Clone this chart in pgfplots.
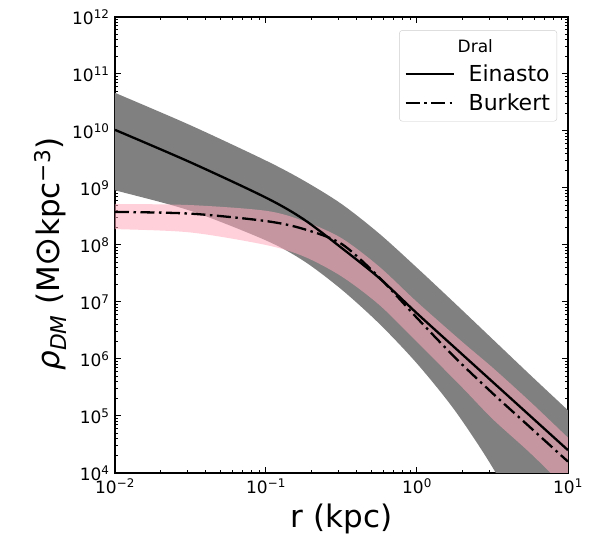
\documentclass[border=0pt]{standalone}
\usepackage{fontspec}
\setmainfont{DejaVu Sans}
\usepackage{pgfplots}
\pgfplotsset{compat=1.18}
\definecolor{bandgrey}{RGB}{128,128,128}
\definecolor{bandpink}{RGB}{255,168,188}
\begin{document}
\begin{tikzpicture}
\path[use as bounding box] (-115pt,-64pt) rectangle (479pt,473pt);
\begin{axis}[
  scale only axis,
  width=453pt, height=456pt,
  at={(0pt,0pt)}, anchor=south west,
  xmode=log, ymode=log,
  xmin=1e-2, xmax=10, ymin=1e4, ymax=1e12,
  axis line style={line width=1.4pt},
  tick align=inside,
  xtick pos=both, ytick pos=both,
  major tick length=6pt, minor tick length=3pt,
  every tick/.style={black, line width=1pt},
  xtick={1e-2,1e-1,1,10},
  xticklabels={10\textsuperscript{−2},10\textsuperscript{−1},10\textsuperscript{0},10\textsuperscript{1}},
  ytick={1e4,1e5,1e6,1e7,1e8,1e9,1e10,1e11,1e12},
  yticklabels={10\textsuperscript{4},10\textsuperscript{5},10\textsuperscript{6},10\textsuperscript{7},10\textsuperscript{8},10\textsuperscript{9},10\textsuperscript{10},10\textsuperscript{11},10\textsuperscript{12}},
  minor xtick={2e-2,3e-2,4e-2,5e-2,6e-2,7e-2,8e-2,9e-2,0.2,0.3,0.4,0.5,0.6,0.7,0.8,0.9,2,3,4,5,6,7,8,9},
  minor ytick={2e4,3e4,4e4,5e4,6e4,7e4,8e4,9e4,2e5,3e5,4e5,5e5,6e5,7e5,8e5,9e5,2e6,3e6,4e6,5e6,6e6,7e6,8e6,9e6,2e7,3e7,4e7,5e7,6e7,7e7,8e7,9e7,2e8,3e8,4e8,5e8,6e8,7e8,8e8,9e8,2e9,3e9,4e9,5e9,6e9,7e9,8e9,9e9,2e10,3e10,4e10,5e10,6e10,7e10,8e10,9e10,2e11,3e11,4e11,5e11,6e11,7e11,8e11,9e11},
  tick label style={font=\fontsize{17}{17}\selectfont},
  xticklabel style={yshift=-2pt},
  yticklabel style={xshift=-2pt},
  xlabel={r (kpc)},
  ylabel={{\itshape ρ}\textsubscript{\itshape DM} (M{\fontsize{35}{35}\selectfont ⊙}kpc\textsuperscript{−3})},
  label style={font=\fontsize{31}{31}\selectfont},
  xlabel style={yshift=-3pt},
  ylabel style={yshift=-1pt, xshift=-9pt},
  legend style={at={(rel axis cs:0.976,0.971)}, anchor=north east,
    draw={rgb,255:red,204;green,204;blue,204}, rounded corners=3pt,
    font=\fontsize{22}{22}\selectfont, inner xsep=5pt, inner ysep=7pt,
    row sep=7pt},
  legend cell align=left,
  legend image code/.code={\draw[#1] (0pt,0pt) -- (48pt,0pt); \path (60pt,0pt);},
]
% Einasto band (upper edge, then lower edge back)
\addplot[fill=bandgrey, draw=none, smooth, forget plot] coordinates {
 (0.007,7.08e10) (0.01,4.677e10) (0.03162,1.259e10) (0.1,3.020e9) (0.1778,1.349e9) (0.3162,5.248e8)
 (0.5623,1.585e8) (1,3.981e7) (1.778,9.550e6) (3.162,2.239e6) (5.623,5.248e5) (10,1.259e5) (14,5.5e4)
 (14,7) (10,40) (5.623,794) (3.162,1.259e4) (1.778,1.259e5) (1,8.318e5) (0.5623,4.169e6)
 (0.3162,1.660e7) (0.1778,5.248e7) (0.1,1.202e8) (0.03162,3.981e8) (0.01,9.12e8) (0.007,1.175e9)
} -- cycle;
% Burkert band
\addplot[fill=bandpink, fill opacity=0.55, draw=none, smooth, forget plot] coordinates {
 (0.007,5.25e8) (0.01,5.248e8) (0.03162,5.012e8) (0.1,3.981e8) (0.1778,2.630e8) (0.3162,1.318e8)
 (0.5623,4.169e7) (1,1e7) (1.995,1.995e6) (3.162,7.079e5) (5.623,1.778e5) (10,4.169e4) (14,1.82e4)
 (14,2089) (10,5012) (5.623,2.239e4) (3.162,8.913e4) (1.995,3.162e5) (1,1.995e6) (0.5623,8.913e6)
 (0.3162,2.818e7) (0.1778,6.310e7) (0.1,1e8) (0.03162,1.660e8) (0.01,1.905e8) (0.007,1.95e8)
} -- cycle;
\addlegendimage{empty legend}
\addlegendentry{\makebox[0pt][l]{\hspace{-11pt}\fontsize{17}{17}\selectfont Dral}}
% Einasto
\addplot[black, line width=2.3pt, smooth] coordinates {
 (0.01,1.047e10) (0.03162,2.818e9) (0.1,6.761e8) (0.1778,2.818e8) (0.3162,8.913e7)
 (0.5623,2.630e7) (1,6.310e6) (1.778,1.585e6) (3.162,3.981e5) (5.623,1e5) (10,2.512e4)
};
\addlegendentry{Einasto}
% Burkert
\addplot[black, line width=2.3pt, smooth, dash pattern=on 14pt off 4.5pt on 2.5pt off 4.5pt] coordinates {
 (0.01,3.802e8) (0.03162,3.548e8) (0.1,2.630e8) (0.1778,1.905e8) (0.3162,1.047e8)
 (0.5623,2.692e7) (1,5.248e6) (1.778,1.072e6) (3.162,2.512e5) (5.623,6.31e4) (10,1.585e4)
};
\addlegendentry{Burkert}
\end{axis}
\end{tikzpicture}
\end{document}
